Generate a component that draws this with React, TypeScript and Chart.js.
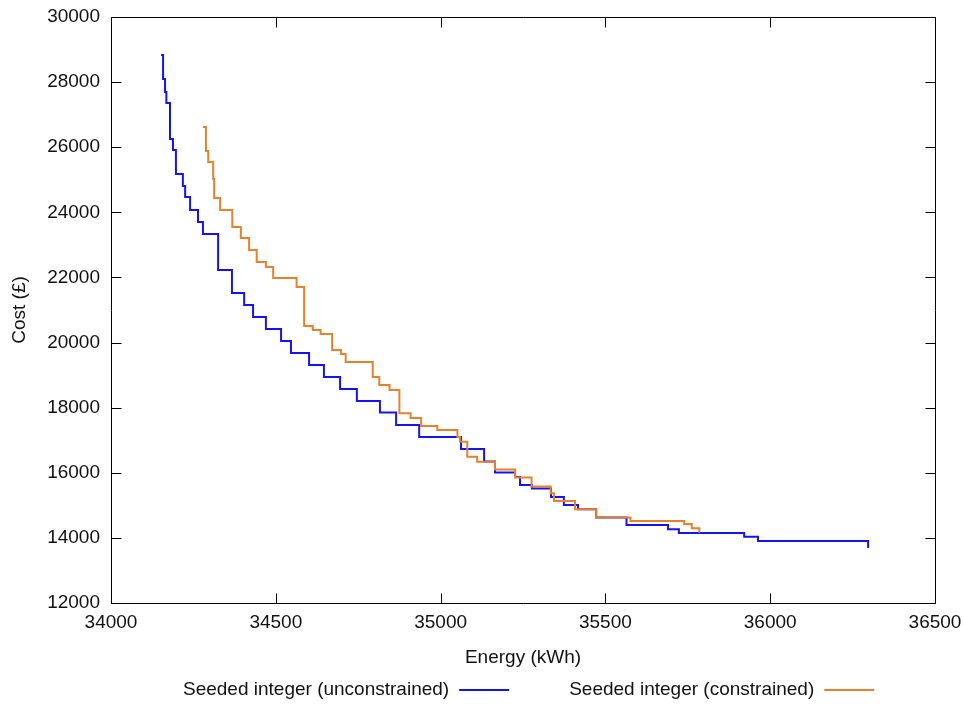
import React, { useEffect, useRef } from 'react';
import { Chart, registerables } from 'chart.js';

Chart.register(...registerables);

// ---- Data ----
const energyUnconstrained = [
  34152, 34158, 34164, 34168, 34179, 34188, 34197, 34218, 34225, 34240,
  34264, 34279, 34325, 34367, 34404, 34431, 34470, 34516, 34546, 34601,
  34646, 34695, 34746, 34816, 34865, 34935, 35062, 35132, 35165, 35226,
  35241, 35277, 35335, 35374, 35417, 35472, 35564, 35690, 35723, 35921,
  35963, 36297,
];
const costUnconstrained = [
  28833, 28096, 27696, 27358, 26253, 25915, 25177, 24809, 24471, 24072,
  23703, 23334, 22229, 21522, 21154, 20785, 20416, 20048, 19679, 19310,
  18942, 18573, 18205, 17851, 17467, 17099, 16730, 16346, 16008, 15870,
  15624, 15517, 15256, 15010, 14878, 14626, 14396, 14264, 14150, 14036,
  13904, 13689,
];
const energyConstrained = [
  34279, 34288, 34295, 34310, 34313, 34331, 34368, 34394, 34419, 34442,
  34470, 34492, 34563, 34586, 34612, 34636, 34671, 34698, 34712, 34794,
  34814, 34845, 34875, 34909, 34941, 34990, 35051, 35059, 35081, 35111,
  35165, 35226, 35276, 35334, 35344, 35408, 35472, 35576, 35739, 35762,
  35785,
];
const costConstrained = [
  26621, 25884, 25546, 25024, 24440, 24072, 23549, 23212, 22843, 22474,
  22321, 21983, 21706, 20508, 20386, 20263, 19771, 19648, 19403, 18942,
  18696, 18543, 17827, 17682, 17437, 17314, 17099, 16954, 16494, 16340,
  16101, 15855, 15578, 15370, 15133, 14878, 14626, 14519, 14426, 14294,
  14159,
];
const xTickValues = [34000, 34500, 35000, 35500, 36000, 36500];
const yTickValues = [12000, 14000, 16000, 18000, 20000, 22000, 24000, 26000, 28000, 30000];
const seriesLabels = ['Seeded integer (unconstrained)', 'Seeded integer (constrained)'];
const xAxisTitle = 'Energy (kWh)';
const yAxisTitle = 'Cost (£)';

// ---- Styles ----
const FONT_FAMILY = '"Liberation Sans", Arial, Helvetica, sans-serif';
const FONT_SIZE = 19;
const TEXT_COLOR = '#111111';
const BLUE = '#1414F0';
const ORANGE = '#E8802C';

const framePlugin = {
  id: 'gnuFrame',
  afterDatasetsDraw(chart: any) {
    const { ctx, chartArea, scales } = chart;
    const { left, right, top, bottom } = chartArea;
    const L = Math.round(left) + 0.5;
    const R = Math.round(right) + 0.5;
    const T = Math.round(top) + 0.5;
    const B = Math.round(bottom) + 0.5;
    const tl = 10;
    ctx.save();
    ctx.strokeStyle = '#000';
    ctx.lineWidth = 1;
    ctx.beginPath();
    ctx.rect(L, T, R - L, B - T);
    scales.x.ticks.forEach((t: any) => {
      const px = Math.round(scales.x.getPixelForValue(t.value)) + 0.5;
      ctx.moveTo(px, B);
      ctx.lineTo(px, B - tl);
      ctx.moveTo(px, T);
      ctx.lineTo(px, T + tl);
    });
    scales.y.ticks.forEach((t: any) => {
      const py = Math.round(scales.y.getPixelForValue(t.value)) + 0.5;
      ctx.moveTo(L, py);
      ctx.lineTo(L + tl, py);
      ctx.moveTo(R, py);
      ctx.lineTo(R - tl, py);
    });
    ctx.stroke();
    ctx.restore();
  },
  afterDraw(chart: any) {
    const { ctx, chartArea, data } = chart;
    const { left, right, top, bottom } = chartArea;
    ctx.save();
    ctx.fillStyle = TEXT_COLOR;
    ctx.font = `${FONT_SIZE}px ${FONT_FAMILY}`;
    ctx.textBaseline = 'middle';
    // x-axis title
    ctx.textAlign = 'center';
    ctx.fillText(xAxisTitle, (left + right) / 2, 658);
    // y-axis title
    ctx.save();
    ctx.translate(20, (top + bottom) / 2);
    ctx.rotate(-Math.PI / 2);
    ctx.fillText(yAxisTitle, 0, 0);
    ctx.restore();
    // legend: text then line sample
    ctx.textAlign = 'left';
    let x = 183;
    const y = 690;
    data.datasets.forEach((ds: any) => {
      ctx.fillStyle = TEXT_COLOR;
      ctx.fillText(ds.label, x, y);
      x += ctx.measureText(ds.label).width + 10;
      ctx.strokeStyle = ds.borderColor;
      ctx.lineWidth = 2;
      ctx.beginPath();
      ctx.moveTo(x, y);
      ctx.lineTo(x + 50, y);
      ctx.stroke();
      x += 50 + 60;
    });
    ctx.restore();
  },
};

export default function App() {
  const canvasRef = useRef<HTMLCanvasElement | null>(null);

  useEffect(() => {
    document.body.style.margin = '0';
    const canvas = canvasRef.current;
    if (!canvas) return;
    const toPoints = (xs: number[], ys: number[]) => xs.map((v, i) => ({ x: v, y: ys[i] }));
    const chart = new Chart(canvas, {
      type: 'line',
      data: {
        datasets: [
          {
            label: seriesLabels[0],
            data: toPoints(energyUnconstrained, costUnconstrained),
            borderColor: BLUE,
            borderWidth: 2,
            pointRadius: 0,
            stepped: 'before',
            fill: false,
            order: 2,
          },
          {
            label: seriesLabels[1],
            data: toPoints(energyConstrained, costConstrained),
            borderColor: ORANGE,
            borderWidth: 2,
            pointRadius: 0,
            stepped: 'before',
            fill: false,
            order: 1,
          },
        ],
      },
      options: {
        responsive: false,
        animation: false,
        layout: { padding: { top: 17, right: 28, left: 0, bottom: 0 } },
        plugins: {
          legend: { display: false },
          tooltip: { enabled: false },
        },
        scales: {
          x: {
            type: 'linear',
            min: xTickValues[0],
            max: xTickValues[xTickValues.length - 1],
            afterBuildTicks: (scale: any) => {
              scale.ticks = xTickValues.map((v) => ({ value: v }));
            },
            ticks: {
              callback: (v: any) => String(v),
              font: { family: FONT_FAMILY, size: FONT_SIZE },
              color: TEXT_COLOR,
              padding: 0,
              maxRotation: 0,
              autoSkip: false,
            },
            grid: { display: false, drawTicks: true, tickLength: 8 },
            border: { display: false },
            afterFit: (scale: any) => {
              scale.height = 103;
            },
          },
          y: {
            type: 'linear',
            min: yTickValues[0],
            max: yTickValues[yTickValues.length - 1],
            afterBuildTicks: (scale: any) => {
              scale.ticks = yTickValues.map((v) => ({ value: v }));
            },
            ticks: {
              callback: (v: any) => String(v),
              font: { family: FONT_FAMILY, size: FONT_SIZE },
              color: TEXT_COLOR,
              padding: 0,
              autoSkip: false,
            },
            grid: { display: false, drawTicks: true, tickLength: 11 },
            border: { display: false },
            afterFit: (scale: any) => {
              scale.width = 111;
            },
          },
        },
      },
      plugins: [framePlugin],
    } as any);
    return () => chart.destroy();
  }, []);

  return (
    <div style={{ width: 963, height: 706, background: '#fff' }}>
      <canvas ref={canvasRef} width={963} height={706} style={{ display: 'block' }} />
    </div>
  );
}
